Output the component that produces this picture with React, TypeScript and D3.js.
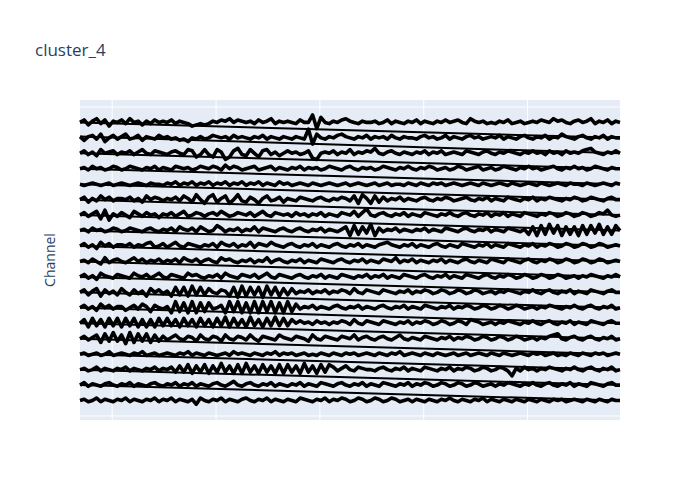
import React, { useEffect, useRef } from 'react';
import * as d3 from 'd3';

// recording window (seconds) and sampling
const tStart = -0.31;
const sampleRate = 25;
const xGridTicks = [0, 1, 2, 3, 4];

// vertical spacing between channels (uV) and grid at every 20 channels
const channelStep = 100;
const yGridTicks = [0, -2000];
const yRange = [-2026, 45];

// amplitude code per sample: 'k' = 0, one letter = 8 uV (up is later letter)
const codeStep = 8;
const codeZero = 'k';

// channels, top row first (grouped by 10 samples)
const channelTraces = [
  'kmilnjmhlk mjnkliljmk lkmjlkjhij ijlkmlnkml kljmklnjlk lkjmkkqfok jlkmnlkjlk kljkmjlkjl kmjlkjlkmk lmkjnlkljk jlkmjkljkl kmlknlmkjl mklnjlkmjl k',
  'lilmjnhkmj lnjkmilkjm kljkijhkjl jkmlkljmkl kjlkmjlkjl kjlkjrfnkj lkmnlkjlkm jlkljmkjlk kjlmkljkmj lkjlmkljkl kmjlkjlmkj lkmjlknlkj lmkjlkmjlk k',
  'kmjlinklmj lkmjlnkjml kjlmkjnmhj njhnlfhmoj inkhmnjlik mkljkmgfkl kmjlknjlkm lokjlmkjlk jlkmjlkmjk lkjmlkjlmk jlkmlkjlkm kljmkljmkl kmnolkjlkm k',
  'kljmkljkml jkmlkjlkmj lkjmlkljkm lkmljnkmlj klmjklmjlk jlkmjlkljk mlkjlmkjlk ljkmlkjlkm kjlkmljklj kmljklmjkl jkmlkjlkmk ljklmkjlkm kljkmlkjlk k',
  'kjklkjkljk lkjklkjlkk jlkmjlkmjl kmjlkmjlkm jlkmjlkjmk ljklkjlkjk lkjkljklkj kljkljkkjl kjlkjlkljk lkjklkjlkj klkjlkjklk jlkjklkjlk kjlkjklkjl k',
  'kmiljnkmjl lkmjlinkml jlkmjnliok hmoilnhkoj imkhlnjkmi lkjmlkjlmk jlkmljnhol hnimjlkmjl kjlmkjlkml jklmkjlkmj lkjmlkjlkm jlkmlkjlkm ljkmlkjlmk k',
  'kmjlnhoglj mkinljmkli lkmjlnjkml jlmknljkml kmjlnkjmlk ljmkljlkmj lkjmlknjmp kjlmkjlkmj lkjmlkjlkm kjlmkjlkmj lkmjlkjmlk jlkmljkmlj kmljkmlokj k',
  'kljmkljkml jkmlkjlmkj lkmjnlkmjn ljkomjlkmj lknjmlkjlm kjlmkjlkmj lkjlngohni pgmjlkmjlk jlkmjlkjml kjlmkjlkmj lkjmlkjlhn gohpiognhn gohoiphnho k',
  'kmjlinkmjl lkmjlkmnjk mjlnkjmlkj lkmjnlkmjl knjmlknlkj lmkjlkmjlk jlmkjlkmjl kjlmnlkjlk mjlkjlmkjl kjmlkjlkmj lkjmlkjlkm jlkmljkmlj kmljkmljkl k',
  'kljmkinjlm kjlnkmjlkm jlkmjnlkmj lmkjnlmkjl kmjlknjlmk jlkmjlkjml kjlmkjlkmj lkjmlknjlk mjlkjlkmjl kjlmkjlkjm lkjmlkjlmk jlkmljkmlj kmljkmljkl k',
  'kmjlinlkjm lkjnlkmjln kjmlkjnlmk jlkmjnlkjm lkmjlnkjml kjlmkjlkmj lkjmlkjlkm jlkmjlkjml kjlmkjlkmj lkjmlkjlmk jlkmljkmlj kmljkmljkl jlkmlkjlkm k',
  'kmilnhmjli nkimjlhnkm jlhoiohpio inkjmlhogp hoiogpiohn injlkmjlkm jlkmljnkjm lkjmlkjlkm jlkmljkmlj kmljkmljkl jlkmlkjlkm kjlmkjlkmj lkjmlkjlmk k',
  'kmjlinkmjl likmjnlhmk jlgphogpgo hojkmgphpg ogpgphpgog phnjlkmjlk jlmkjlkmjl kjlmkjlkmj lkjmlkjlkm jlkmljkmlj kmljkmljkl jlkmlkjlkm kjlmkjlkmj k',
  'knhoinhoio hoiohnhnho ioinhoinho inhoiphoin hpinhoipio inkmkljmkl jlkmljnkjm lkjmlkjlkm jlkmljkmlj kmljnmljkl jlkmlkjlkm kjlmkjlkmj lkjmlkjlmk k',
  'kmjlnhoipi ngphoiohni mjlnkjmlin kjmlinkjml jnkimlkjnl kjmlkinkjm lkjmlknjlm kjlmkjlnkj lkjmlkjlkm jlkmljkmlj kmljkmljkl jlkmnokjlm kjlmkjlkmj k',
  'kljkljkmjk lkjlkmjklj klkjlkmjlk jlkjkljmkl kjlkjlkmjl kljkljkjlk jlkjlkljkl kjlkjlkmjk lkjlkjlkjk ljkljklkjl kjlkjklkjl kljkljkjlk jlkjlkljkl k',
  'kljkmjlkjl kmjlkjlkmj lkminiohni ohnipinhoh pinhoinhoh oinhpinhoi omjlnkjmlk kjlmkjlkmj lkjmlkjlkm jlkmljkmlj kmljfljmkl jlkmlkjlkm kjlmkjlkmj k',
  'kmjlkjlmkj lkmjlkjlmk jlkmjlkmjl kjlmkjlnkj lmkjlkmjlk jlkmjlkjml kjlmkjlkmj lkjmlkjlkm jlkmljkmlj kmljkmljkl jlkmlkjlkm kjlmkjlkmj lkjmlkjlmk k',
  'kljkmjlkjl kmjlkjlkmj lkmjlkjlhm kjlkmjlkjl mkjlkmjlkj lkjmlkjlkm jlkmljkmlj kmljkmljkl jlkjlkjlkm kjlkjlkmjl kjlkjlkjlk jlkjlkljkl kjlkjlkjlk k',
];

const titleText = 'cluster_4';
const yTitle = 'Channel';

const App = () => {
  const svgRef = useRef<SVGSVGElement>(null);

  useEffect(() => {
    const width = 700;
    const height = 500;
    const margin = { top: 100, right: 80, bottom: 80, left: 80 };
    const innerW = width - margin.left - margin.right;
    const innerH = height - margin.top - margin.bottom;

    const svg = d3.select(svgRef.current);
    svg.selectAll('*').remove();
    svg.attr('width', width).attr('height', height);

    svg.append('rect')
      .attr('width', width)
      .attr('height', height)
      .attr('fill', '#fff');

    const decoded = channelTraces.map(s => s.replace(/ /g, '').split('')
      .map(c => (c.charCodeAt(0) - codeZero.charCodeAt(0)) * codeStep));
    const nSamples = d3.max(decoded, d => d.length) as number;
    const tEnd = tStart + (nSamples - 1) / sampleRate;

    const xScale = d3.scaleLinear().domain([tStart, tEnd]).range([0, innerW]);
    const yScale = d3.scaleLinear().domain(yRange).range([innerH, 0]);

    const g = svg.append('g')
      .attr('transform', `translate(${margin.left},${margin.top})`);

    g.append('rect')
      .attr('width', innerW)
      .attr('height', innerH)
      .attr('fill', '#E5ECF6');

    g.selectAll('.xgrid')
      .data(xGridTicks)
      .enter()
      .append('line')
      .attr('class', 'xgrid')
      .attr('x1', d => xScale(d))
      .attr('x2', d => xScale(d))
      .attr('y1', 0)
      .attr('y2', innerH)
      .attr('stroke', '#fff')
      .attr('stroke-width', 1);

    g.selectAll('.ygrid')
      .data(yGridTicks)
      .enter()
      .append('line')
      .attr('class', 'ygrid')
      .attr('x1', 0)
      .attr('x2', innerW)
      .attr('y1', d => yScale(d))
      .attr('y2', d => yScale(d))
      .attr('stroke', '#fff')
      .attr('stroke-width', 1);

    // per-channel sample points
    const rows = decoded.map((vals, k) => {
      const level = -(k + 1) * channelStep;
      return vals.map((v, i) => [tStart + i / sampleRate, level + v] as [number, number]);
    });

    const line = d3.line<[number, number]>()
      .x(d => xScale(d[0]))
      .y(d => yScale(d[1]));

    // joins: end of a channel back to the start of the channel above
    const joins = rows.slice(1).map((row, j) => [row[row.length - 1], rows[j][0]]);

    g.selectAll('.join')
      .data(joins)
      .enter()
      .append('path')
      .attr('class', 'join')
      .attr('d', d => line(d as [number, number][]))
      .attr('fill', 'none')
      .attr('stroke', '#000')
      .attr('stroke-width', 2);

    g.selectAll('.channel')
      .data(rows.slice().reverse())
      .enter()
      .append('path')
      .attr('class', 'channel')
      .attr('d', d => line(d))
      .attr('fill', 'none')
      .attr('stroke', '#000')
      .attr('stroke-width', 3.6)
      .attr('stroke-linejoin', 'round');

    svg.append('text')
      .attr('x', 35)
      .attr('y', 50)
      .attr('dy', '0.35em')
      .style('font-family', '"Open Sans", verdana, arial, sans-serif')
      .style('font-size', '17px')
      .style('fill', '#2a3f5f')
      .text(titleText);

    svg.append('text')
      .attr('text-anchor', 'middle')
      .attr('transform', `translate(50,${margin.top + innerH / 2}) rotate(-90)`)
      .attr('dy', '0.35em')
      .style('font-family', '"Open Sans", verdana, arial, sans-serif')
      .style('font-size', '14px')
      .style('fill', '#2a3f5f')
      .text(yTitle);
  }, []);

  return <svg ref={svgRef} style={{ position: 'absolute', left: 0, top: 0 }}></svg>;
};

export default App;
